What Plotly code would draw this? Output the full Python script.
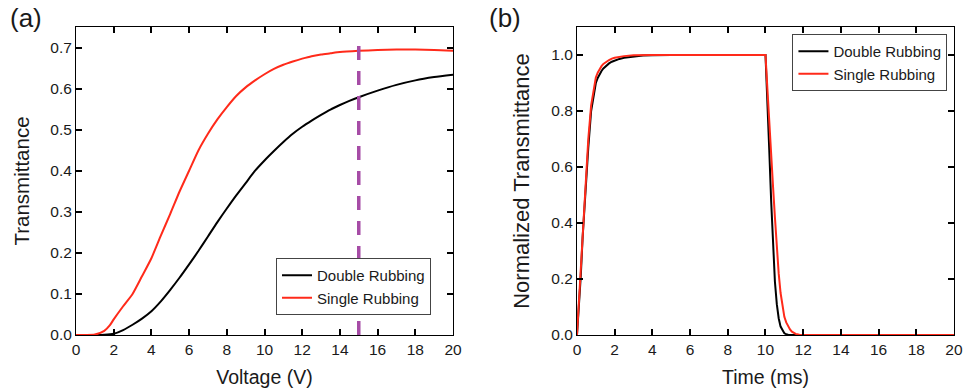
import plotly.graph_objects as go
from plotly.subplots import make_subplots

# ---- Panel (a): Transmittance vs Voltage ----
voltage_double = [0, 1, 1.5, 2, 2.5, 3, 3.5, 4, 4.5, 5, 5.5, 6, 6.5, 7, 7.5, 8, 8.5, 9, 9.5, 10,
                  10.5, 11, 11.5, 12, 12.5, 13, 13.5, 14, 14.5, 15, 16, 17, 18, 19, 20]
trans_double = [0, 0, 0.0005, 0.003, 0.012, 0.025, 0.04, 0.058, 0.082, 0.11, 0.14, 0.172, 0.205, 0.24,
                0.275, 0.308, 0.34, 0.37, 0.40, 0.425, 0.448, 0.47, 0.49, 0.507, 0.522, 0.536, 0.549,
                0.56, 0.57, 0.579, 0.595, 0.609, 0.62, 0.628, 0.634]
voltage_single = [0, 0.5, 1, 1.5, 1.8, 2, 2.5, 3, 3.5, 4, 4.5, 5, 5.5, 6, 6.5, 7, 7.5, 8, 8.5, 9, 9.5,
                  10, 10.5, 11, 11.5, 12, 12.5, 13, 13.5, 14, 15, 16, 17, 18, 19, 20]
trans_single = [0, 0, 0.001, 0.01, 0.024, 0.038, 0.07, 0.1, 0.143, 0.187, 0.242, 0.295, 0.35, 0.40,
                0.45, 0.49, 0.525, 0.555, 0.582, 0.603, 0.62, 0.635, 0.648, 0.658, 0.666, 0.673,
                0.679, 0.683, 0.686, 0.689, 0.692, 0.694, 0.695, 0.695, 0.694, 0.692]
marker_voltage = [15, 15]
marker_level = [0, 0.718]

# ---- Panel (b): Normalized transmittance vs time ----
time_double = [0, 0.1, 0.2, 0.3, 0.4, 0.5, 0.6, 0.75, 0.9, 1.0, 1.1, 1.2, 1.3, 1.4, 1.55, 1.7, 1.85,
               2.0, 2.25, 2.5, 3, 3.5, 4, 5, 10.0, 10.1, 10.2, 10.3, 10.4, 10.5, 10.6, 10.7, 10.8,
               10.9, 11.0, 11.1, 11.2, 11.4, 12, 20]
norm_double = [0, 0.1, 0.21, 0.35, 0.47, 0.59, 0.67, 0.80, 0.87, 0.90, 0.918, 0.932, 0.943, 0.952,
               0.962, 0.97, 0.976, 0.98, 0.986, 0.99, 0.995, 0.998, 0.999, 1.0, 1.0, 0.85, 0.66,
               0.48, 0.32, 0.19, 0.11, 0.06, 0.03, 0.015, 0.006, 0.003, 0.001, 0, 0, 0]
time_single = [0, 0.1, 0.2, 0.3, 0.4, 0.5, 0.6, 0.75, 0.9, 1.0, 1.1, 1.2, 1.3, 1.4, 1.55, 1.7, 1.85,
               2.0, 2.5, 3, 4, 10.0, 10.1, 10.2, 10.3, 10.4, 10.5, 10.6, 10.7, 10.8, 10.9, 11.0,
               11.1, 11.2, 11.3, 11.4, 11.5, 11.6, 11.8, 12, 20]
norm_single = [0, 0.12, 0.24, 0.37, 0.49, 0.62, 0.70, 0.82, 0.89, 0.92, 0.937, 0.95, 0.96, 0.968,
               0.976, 0.982, 0.987, 0.99, 0.996, 0.999, 1.0, 1.0, 0.88, 0.75, 0.63, 0.53, 0.42,
               0.31, 0.22, 0.15, 0.10, 0.065, 0.045, 0.03, 0.02, 0.012, 0.007, 0.004, 0.001, 0, 0]

FONT = "Arial, 'Liberation Sans', sans-serif"
BLACK = "#000000"
RED = "#ff2a1a"
INK = "#1a1a1a"

fig = make_subplots(rows=1, cols=2, horizontal_spacing=0.1412)

fig.add_trace(go.Scatter(x=voltage_double, y=trans_double, mode="lines", name="Double Rubbing",
                         line=dict(color=BLACK, width=2, shape="spline", smoothing=0.6),
                         legend="legend"), row=1, col=1)
fig.add_trace(go.Scatter(x=voltage_single, y=trans_single, mode="lines", name="Single Rubbing",
                         line=dict(color=RED, width=2, shape="spline", smoothing=0.6),
                         legend="legend"), row=1, col=1)
fig.add_trace(go.Scatter(x=marker_voltage, y=marker_level, mode="lines", showlegend=False,
                         line=dict(color="#a64ca6", width=3.5, dash="14px,11px")), row=1, col=1)

fig.add_trace(go.Scatter(x=time_double, y=norm_double, mode="lines", name="Double Rubbing",
                         line=dict(color=BLACK, width=2),
                         legend="legend2"), row=1, col=2)
fig.add_trace(go.Scatter(x=time_single, y=norm_single, mode="lines", name="Single Rubbing",
                         line=dict(color=RED, width=2),
                         legend="legend2"), row=1, col=2)

axis_common = dict(showline=True, linecolor="black", linewidth=1, mirror="allticks",
                   ticks="inside", ticklen=6, tickwidth=2, tickcolor="black",
                   gridcolor="rgba(255,255,255,0)", zerolinecolor="black", zerolinewidth=1,
                   automargin=False,
                   tickfont=dict(family=FONT, size=15.5, color=INK))

fig.update_xaxes(**axis_common, range=[0, 20], dtick=2,
                 title=dict(font=dict(family=FONT, size=19.5, color=INK)))
fig.update_xaxes(title_text="Voltage (V)", row=1, col=1)
fig.update_xaxes(title_text="Time (ms)", row=1, col=2)

fig.update_yaxes(**axis_common, row=1, col=1, range=[0, 0.75], dtick=0.1,
                 tickformat=".1f",
                 title=dict(text="Transmittance", font=dict(family=FONT, size=20.5, color=INK)))
fig.update_yaxes(**axis_common, row=1, col=2, range=[0, 1.1], dtick=0.2,
                 tickformat=".1f",
                 title=dict(text="Normalized Transmittance", font=dict(family=FONT, size=22, color=INK)))

legend_style = dict(bgcolor="white", bordercolor="#444", borderwidth=1,
                    font=dict(family=FONT, size=15, color=INK),
                    xref="paper", yref="paper", xanchor="left", yanchor="top",
                    tracegroupgap=0, itemwidth=30)

fig.update_layout(
    width=964, height=388,
    margin=dict(l=76, r=10, t=27, b=53),
    paper_bgcolor="white", plot_bgcolor="white",
    font=dict(family=FONT, color=INK),
    legend=dict(**legend_style, x=0.2278, y=0.25),
    legend2=dict(**legend_style, x=0.816, y=0.977),
    annotations=[
        dict(text="(a)", x=-0.078, y=1.03, xref="paper", yref="paper", showarrow=False,
             xanchor="left", yanchor="middle", font=dict(family=FONT, size=26, color=INK)),
        dict(text="(b)", x=0.468, y=1.03, xref="paper", yref="paper", showarrow=False,
             xanchor="left", yanchor="middle", font=dict(family=FONT, size=26, color=INK)),
    ],
)

fig.write_html("out.html")
